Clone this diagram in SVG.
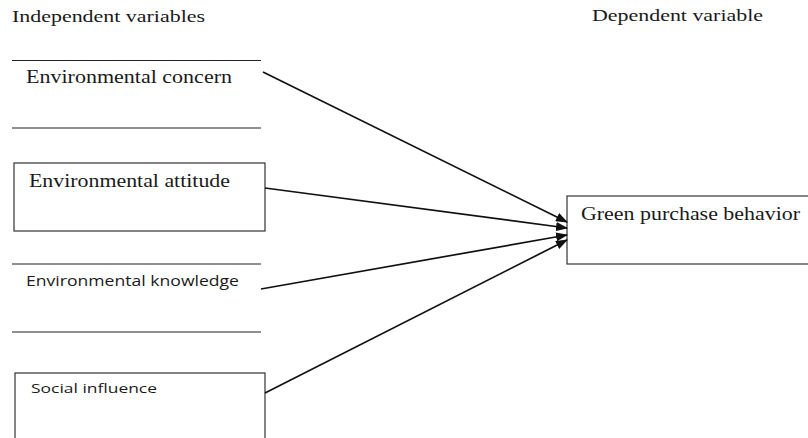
<svg xmlns="http://www.w3.org/2000/svg" width="808" height="438" viewBox="0 0 808 438">
<style>
.serif{font-family:"Liberation Serif","Times New Roman",serif;fill:#1a1a1a}
.sans{font-family:"Open Sans","Noto Sans","Liberation Sans",sans-serif;fill:#1a1a1a}
.rule{stroke:#222;stroke-width:1.2}
.box{fill:#fff;stroke:#333;stroke-width:1.2}
.conn{stroke:#111;stroke-width:1.7;fill:none;marker-end:url(#ah)}
</style>
<defs>
<marker id="ah" markerWidth="12" markerHeight="9" refX="11" refY="4.5" orient="auto" markerUnits="userSpaceOnUse">
<path d="M0,0 L12,4.5 L0,9 Z" fill="#111"/>
</marker>
</defs>
<rect width="808" height="438" fill="#fff"/>
<text class="serif" x="12" y="22" font-size="16.5" textLength="193" lengthAdjust="spacingAndGlyphs">Independent variables</text>
<text class="serif" x="592" y="21" font-size="16.5" textLength="171" lengthAdjust="spacingAndGlyphs">Dependent variable</text>
<g id="concern">
<line class="rule" x1="12" y1="60.5" x2="261" y2="60.5"/>
<line class="rule" x1="12" y1="128" x2="261" y2="128"/>
<text class="serif" x="26" y="83" font-size="18.5" textLength="206" lengthAdjust="spacingAndGlyphs">Environmental concern</text>
</g>
<g id="attitude">
<rect class="box" x="14" y="163" width="251" height="68"/>
<text class="serif" x="29" y="187" font-size="18.5" textLength="201" lengthAdjust="spacingAndGlyphs">Environmental attitude</text>
</g>
<g id="knowledge">
<line class="rule" x1="12" y1="264" x2="261" y2="264"/>
<line class="rule" x1="12" y1="332" x2="261" y2="332"/>
<text class="sans" x="26" y="286" font-size="14" textLength="213" lengthAdjust="spacingAndGlyphs">Environmental knowledge</text>
</g>
<g id="social">
<rect class="box" x="15" y="373" width="250" height="80"/>
<text class="sans" x="31" y="393" font-size="12.5" textLength="126" lengthAdjust="spacingAndGlyphs">Social influence</text>
</g>
<g id="green">
<rect class="box" x="567" y="196" width="250" height="68"/>
<text class="serif" x="581" y="220" font-size="18.5" textLength="219" lengthAdjust="spacingAndGlyphs">Green purchase behavior</text>
</g>
<g id="connectors">
<line class="conn" x1="263" y1="72" x2="567" y2="222"/>
<line class="conn" x1="265" y1="188" x2="567" y2="228"/>
<line class="conn" x1="261" y1="289" x2="567" y2="235"/>
<line class="conn" x1="265" y1="393" x2="567" y2="240"/>
</g>
</svg>
